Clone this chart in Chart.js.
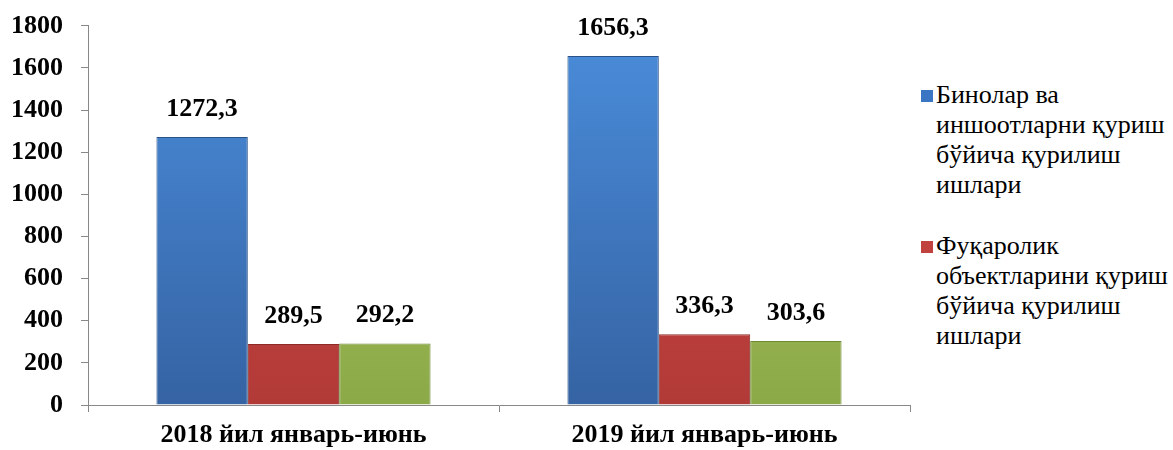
<!DOCTYPE html>
<html>
<head>
<meta charset="utf-8">
<script src="https://cdn.jsdelivr.net/npm/chart.js@4.4.1/dist/chart.umd.min.js"></script>
<style>
  html, body { margin: 0; padding: 0; background: #fff; }
  #wrap { position: relative; width: 1173px; height: 450px; }
  #chart-box { position: absolute; left: 0; top: 0; width: 915px; height: 450px; }
  #legend {
    position: absolute; left: 921px; top: 80px; width: 252px;
    font-family: "Liberation Serif", "Times New Roman", serif;
    font-size: 26px; line-height: 30px; color: #000; white-space: nowrap;
  }
  .leg-item { position: relative; padding-left: 15px; margin-bottom: 31px; }
  .leg-box { position: absolute; left: 0; top: 10px; width: 12px; height: 12px; }
</style>
</head>
<body>
<div id="wrap">
  <div id="chart-box"><canvas id="chart"></canvas></div>
  <div id="legend"></div>
</div>
<script>
const categories = ["2018 йил январь-июнь", "2019 йил январь-июнь"];
const seriesNames = [
  ["Бинолар ва", "иншоотларни қуриш", "бўйича қурилиш", "ишлари"],
  ["Фуқаролик", "объектларини қуриш", "бўйича қурилиш", "ишлари"],
  [],
];
const buildingWorks = [1272.3, 1656.3];
const civilWorks = [289.5, 336.3];
const otherWorks = [292.2, 303.6];
const yTicks = [0, 200, 400, 600, 800, 1000, 1200, 1400, 1600, 1800];

const FONT = "'Liberation Serif', 'Times New Roman', serif";

const palette = [
  { top: "#4a8ddb", bottom: "#3563a3", edge: "#2a5288", legend: "#3a76c4" },
  { top: "#d84c4a", bottom: "#b13a37", edge: "#8e2b28", legend: "#c0413d" },
  { top: "#abcc5e", bottom: "#8ca948", edge: "#6e8a30", legend: "#9bbb59" },
];

function barFill(idx) {
  return (ctx) => {
    const c = palette[idx];
    const area = ctx.chart.chartArea;
    if (!area) return c.top;
    const g = ctx.chart.ctx.createLinearGradient(0, area.top, 0, area.bottom);
    g.addColorStop(0, c.top);
    g.addColorStop(1, c.bottom);
    return g;
  };
}

function fmt(v) {
  return v.toFixed(1).replace(".", ",");
}

const valueLabels = {
  id: "valueLabels",
  afterDatasetsDraw(chart) {
    const ctx = chart.ctx;
    ctx.save();
    ctx.font = `bold 26px ${FONT}`;
    ctx.fillStyle = "#000";
    ctx.textAlign = "center";
    ctx.textBaseline = "bottom";
    chart.data.datasets.forEach((ds, i) => {
      chart.getDatasetMeta(i).data.forEach((bar, j) => {
        ctx.fillText(fmt(ds.data[j]), bar.x, bar.y - 15);
      });
    });
    ctx.restore();
  },
};

const data = [buildingWorks, civilWorks, otherWorks];

new Chart(document.getElementById("chart"), {
  type: "bar",
  data: {
    labels: categories,
    datasets: data.map((d, i) => ({
      label: seriesNames[i].join(" "),
      data: d,
      backgroundColor: barFill(i),
      borderColor: palette[i].edge,
      borderWidth: 1,
      barPercentage: 1,
      categoryPercentage: 0.667,
    })),
  },
  options: {
    responsive: true,
    maintainAspectRatio: false,
    animation: false,
    layout: { padding: { left: 0, top: 4, right: 5, bottom: 0 } },
    plugins: {
      legend: { display: false },
      tooltip: { enabled: false },
    },
    scales: {
      x: {
        afterFit: (axis) => { axis.height = 45; },
        grid: { drawOnChartArea: false, color: "#888", tickLength: 7 },
        border: { color: "#888", width: 1 },
        ticks: {
          color: "#000",
          font: { family: FONT, size: 26, weight: "bold" },
          padding: 8,
        },
      },
      y: {
        min: 0,
        max: 1800,
        afterBuildTicks: (axis) => { axis.ticks = yTicks.map((v) => ({ value: v })); },
        afterFit: (axis) => { axis.width = 88; },
        grid: { drawOnChartArea: false, color: "#888", tickLength: 7 },
        border: { color: "#888", width: 1 },
        ticks: {
          color: "#000",
          font: { family: FONT, size: 26, weight: "bold", lineHeight: 0.6 },
          padding: 18,
          callback: (v) => String(v),
        },
      },
    },
  },
  plugins: [valueLabels],
});

const legend = document.getElementById("legend");
legend.innerHTML = seriesNames
  .map((lines, i) => (lines.length ? `<div class="leg-item"><span class="leg-box" style="background:${palette[i].legend}"></span>${lines.join("<br>")}</div>` : ""))
  .join("");
</script>
</body>
</html>
